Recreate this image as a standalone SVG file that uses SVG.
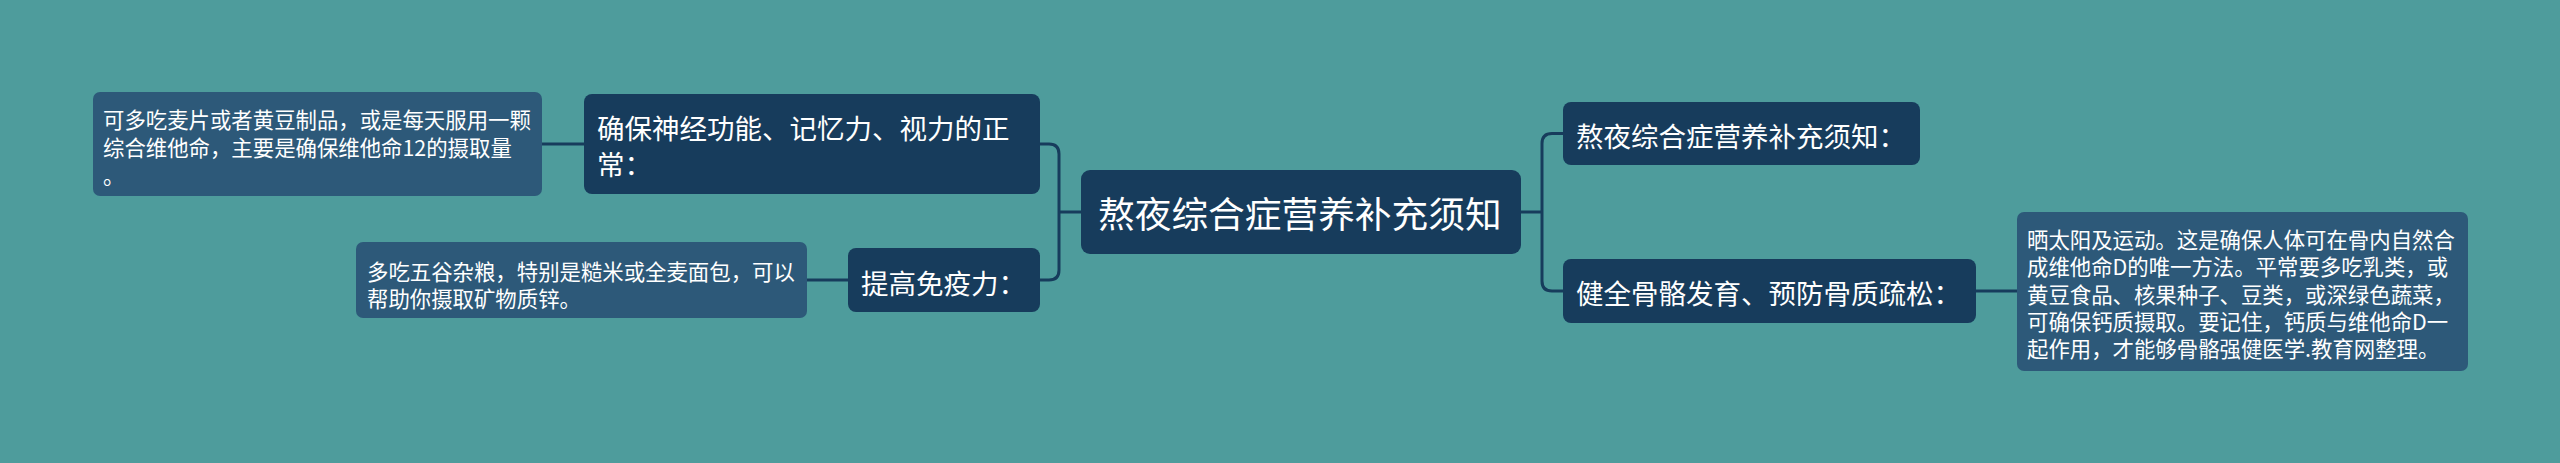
<svg xmlns="http://www.w3.org/2000/svg" width="2560" height="463" viewBox="0 0 2560 463">
<style>
.bg{fill:#4E9C9C}
.node{fill:#173C5C}
.leaf{fill:#2D5979}
.conn{fill:none;stroke:#173C5C;stroke-width:3}
text{font-family:"Noto Sans CJK SC","Noto Sans",sans-serif;fill:#FFFFFF;dominant-baseline:central}
.t-root{font-size:36.7px}
.t-node{font-size:27.5px}
.t-leaf{font-size:21.4px}
</style>
<rect class="bg" x="0" y="0" width="2560" height="463"/>
<g id="connectors">
<path class="conn" d="M1081,212 H1059"/>
<path class="conn" d="M1040,144 H1049 Q1059,144 1059,154 V270 Q1059,280 1049,280 H1040"/>
<path class="conn" d="M542,144 H584"/>
<path class="conn" d="M807,280 H848"/>
<path class="conn" d="M1521,212 H1542"/>
<path class="conn" d="M1563,133.5 H1552 Q1542,133.5 1542,143.5 V281 Q1542,291 1552,291 H1563"/>
<path class="conn" d="M1976,291 H2017"/>
</g>
<g id="root">
<rect class="node" x="1081" y="170" width="440" height="84" rx="9"/>
<text class="t-root" x="1098" y="212">熬夜综合症营养补充须知</text>
</g>
<g id="node-nerve">
<rect class="node" x="584" y="94" width="456" height="100" rx="8"/>
<text class="t-node" x="597" y="127">确保神经功能、记忆力、视力的正</text>
<text class="t-node" x="597" y="163">常：</text>
</g>
<g id="leaf-nerve">
<rect class="leaf" x="93" y="92" width="449" height="104" rx="7"/>
<text class="t-leaf" x="103" y="118">可多吃麦片或者黄豆制品，或是每天服用一颗</text>
<text class="t-leaf" x="103" y="146">综合维他命，主要是确保维他命12的摄取量</text>
<text class="t-leaf" x="103" y="174">。</text>
</g>
<g id="node-immune">
<rect class="node" x="848" y="248" width="192" height="64" rx="8"/>
<text class="t-node" x="861" y="282">提高免疫力：</text>
</g>
<g id="leaf-immune">
<rect class="leaf" x="356" y="242" width="451" height="76" rx="7"/>
<text class="t-leaf" x="367" y="270">多吃五谷杂粮，特别是糙米或全麦面包，可以</text>
<text class="t-leaf" x="367" y="297">帮助你摄取矿物质锌。</text>
</g>
<g id="node-notice">
<rect class="node" x="1563" y="102" width="357" height="63" rx="8"/>
<text class="t-node" x="1576" y="135">熬夜综合症营养补充须知：</text>
</g>
<g id="node-bone">
<rect class="node" x="1563" y="259" width="413" height="64" rx="8"/>
<text class="t-node" x="1576" y="292">健全骨骼发育、预防骨质疏松：</text>
</g>
<g id="leaf-bone">
<rect class="leaf" x="2017" y="212" width="451" height="159" rx="7"/>
<text class="t-leaf" x="2027" y="238">晒太阳及运动。这是确保人体可在骨内自然合</text>
<text class="t-leaf" x="2027" y="265.5">成维他命D的唯一方法。平常要多吃乳类，或</text>
<text class="t-leaf" x="2027" y="293">黄豆食品、核果种子、豆类，或深绿色蔬菜，</text>
<text class="t-leaf" x="2027" y="320">可确保钙质摄取。要记住，钙质与维他命D一</text>
<text class="t-leaf" x="2027" y="347">起作用，才能够骨骼强健医学.教育网整理。</text>
</g>
</svg>
